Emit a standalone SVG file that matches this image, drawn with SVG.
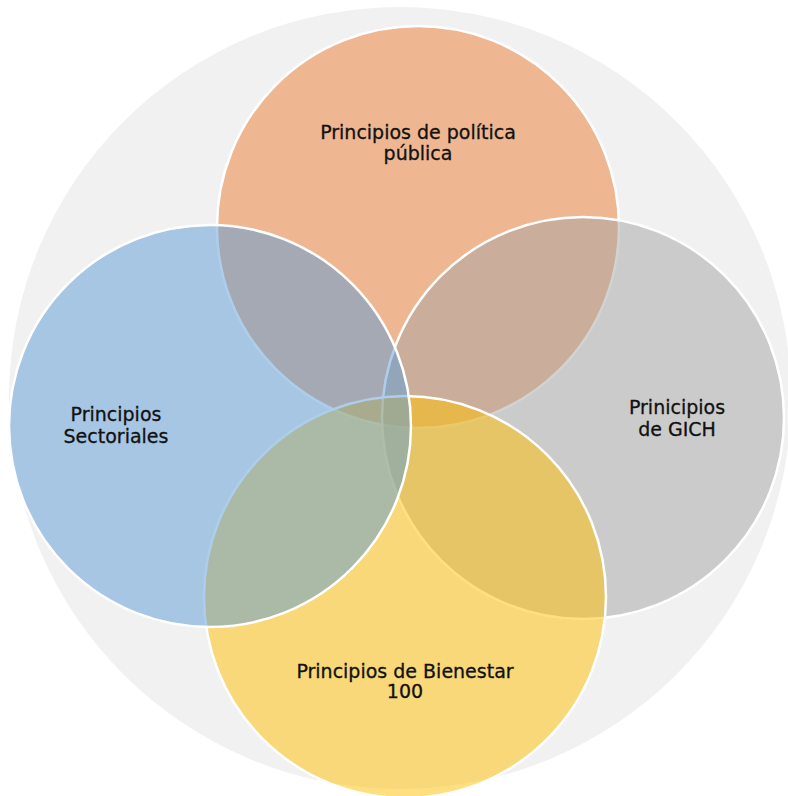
<svg xmlns="http://www.w3.org/2000/svg" width="788" height="796" viewBox="0 0 788 796">
<style>
.c{stroke:#ffffff;stroke-width:2.5;fill-opacity:0.5}
.t{font-family:"DejaVu Sans","Liberation Sans",sans-serif;font-size:19px;fill:#111111;text-anchor:middle;stroke:#111111;stroke-width:0.3}
</style>
<rect width="788" height="796" fill="#ffffff"/>
<g id="background"><circle cx="400" cy="398" r="391" fill="#f1f1f1"/></g>
<g id="node-politica">
<circle class="c" cx="418" cy="227" r="201" fill="#ED7D31"/>
<text class="t" x="418" y="139">Principios de política</text>
<text class="t" x="418" y="160">pública</text>
</g>
<g id="node-gich">
<circle class="c" cx="583" cy="418" r="201" fill="#A5A5A5"/>
<text class="t" x="677" y="414">Prinicipios</text>
<text class="t" x="677" y="436">de GICH</text>
</g>
<g id="node-bienestar">
<circle class="c" cx="405" cy="597" r="201" fill="#FFC000"/>
<text class="t" x="405" y="678">Principios de Bienestar</text>
<text class="t" x="405" y="698">100</text>
</g>
<g id="node-sectoriales">
<circle class="c" cx="210" cy="426" r="201" fill="#5B9BD5"/>
<text class="t" x="116" y="421">Principios</text>
<text class="t" x="116" y="443">Sectoriales</text>
</g>
<g id="connectors"></g>
</svg>
